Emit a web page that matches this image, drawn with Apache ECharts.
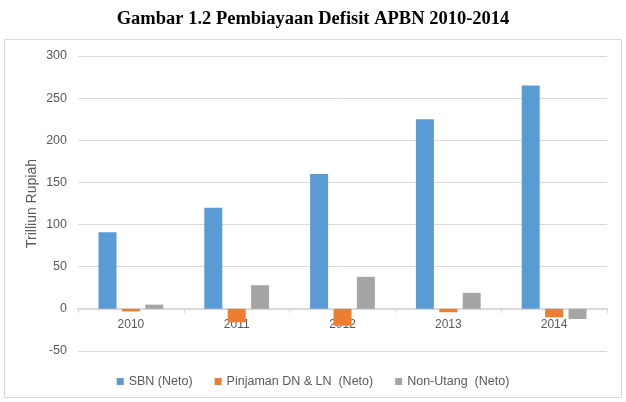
<!DOCTYPE html>
<html>
<head>
<meta charset="utf-8">
<script src="https://cdn.jsdelivr.net/npm/echarts@6/dist/echarts.min.js"></script>
<style>
  html, body { margin: 0; padding: 0; background: #fff; }
  #chart { width: 626px; height: 402px; }
</style>
</head>
<body>
<div id="chart"></div>
<script>
var years = ['2010', '2011', '2012', '2013', '2014'];
var sbn = [91, 120, 160, 225, 265];
var pinjaman = [-3, -16, -20, -4, -10];
var nonUtang = [5, 28, 38, 19, -12];
var yTicks = { min: -50, max: 300, step: 50 };

var chart = echarts.init(document.getElementById('chart'));
var font = 'Liberation Sans, Arial, sans-serif';

function bar(name, data, color) {
    return {
        name: name,
        type: 'bar',
        data: data,
        barWidth: 18,
        barGap: '30%',
        z: 5,
        itemStyle: { color: color }
    };
}

chart.setOption({
    animation: false,
    title: {
        text: 'Gambar 1.2 Pembiayaan Defisit APBN 2010-2014',
        left: 'center',
        top: 5,
        textStyle: {
            fontFamily: 'Liberation Serif, Times New Roman, serif',
            fontWeight: 'bold',
            fontSize: 18.5,
            color: '#000'
        }
    },
    graphic: [{
        type: 'rect',
        shape: { x: 4.5, y: 39.5, width: 617, height: 358 },
        style: { fill: 'none', stroke: '#d9d9d9', lineWidth: 1 },
        silent: true
    }],
    grid: { left: 78, right: 19, top: 56, bottom: 51 },
    legend: {
        bottom: 9,
        left: 'center',
        itemWidth: 7,
        itemHeight: 7,
        itemGap: 22,
        icon: 'rect',
        textStyle: { fontFamily: font, fontSize: 12.5, color: '#595959' },
        data: ['SBN (Neto)', 'Pinjaman DN & LN  (Neto)', 'Non-Utang  (Neto)']
    },
    xAxis: {
        type: 'category',
        data: years,
        offset: -42,
        z: 1,
        axisLine: { onZero: false, lineStyle: { color: '#d9d9d9', width: 2 } },
        axisTick: { show: true, length: 4, lineStyle: { color: '#d9d9d9' } },
        axisLabel: { margin: 10, fontFamily: font, fontSize: 12, color: '#595959' }
    },
    yAxis: {
        type: 'value',
        min: yTicks.min,
        max: yTicks.max,
        interval: yTicks.step,
        name: 'Trilliun Rupiah',
        nameLocation: 'middle',
        nameGap: 39,
        nameMoveOverlap: false,
        nameTextStyle: { fontFamily: font, fontSize: 14, color: '#595959' },
        axisLine: { show: false },
        axisTick: { show: false },
        axisLabel: { margin: 11, fontFamily: font, fontSize: 12.5, color: '#595959' },
        splitLine: { lineStyle: { color: '#d9d9d9', width: 1 } }
    },
    series: [
        bar('SBN (Neto)', sbn, '#5b9bd5'),
        bar('Pinjaman DN & LN  (Neto)', pinjaman, '#ed7d31'),
        bar('Non-Utang  (Neto)', nonUtang, '#a5a5a5')
    ]
});
</script>
</body>
</html>
